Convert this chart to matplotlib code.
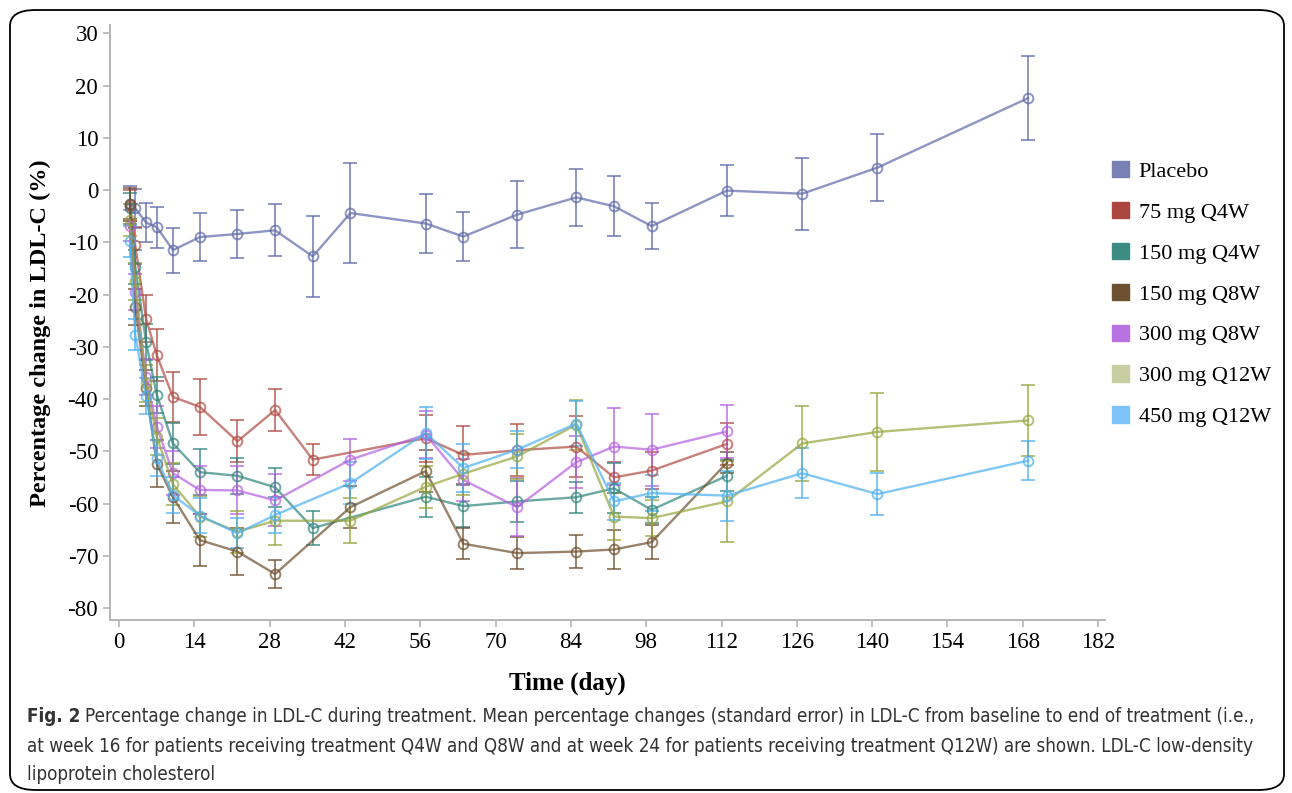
import matplotlib
matplotlib.use("Agg")
import matplotlib.pyplot as plt
from matplotlib.patches import Patch, FancyBboxPatch

plt.rcParams["axes.unicode_minus"] = False

# ---- data ----
placebo_days = [2, 3, 5, 7, 10, 15, 22, 29, 36, 43, 57, 64, 74, 85, 92, 99, 113, 127, 141, 169]
placebo_mean = [-2.6, -3.5, -6.2, -7.1, -11.5, -9.0, -8.4, -7.7, -12.7, -4.4, -6.4, -8.9, -4.7, -1.4, -3.1, -6.9, -0.1, -0.7, 4.3, 17.6]
placebo_se = [3.3, 3.8, 3.7, 3.9, 4.3, 4.6, 4.6, 5.0, 7.8, 9.5, 5.6, 4.7, 6.4, 5.4, 5.7, 4.4, 4.9, 6.9, 6.4, 8.1]

q4w75_days = [2, 3, 5, 7, 10, 15, 22, 29, 36, 57, 64, 74, 85, 92, 99, 113]
q4w75_mean = [-3.0, -10.6, -24.6, -31.6, -39.6, -41.5, -48.1, -42.1, -51.6, -47.5, -50.7, -49.8, -49.1, -55.0, -53.7, -48.6]
q4w75_se = [3.0, 3.5, 4.5, 5.0, 4.8, 5.3, 4.0, 4.0, 2.9, 4.5, 5.6, 5.0, 5.8, 3.0, 3.5, 4.0]

q4w150_days = [2, 3, 5, 7, 10, 15, 22, 29, 36, 57, 64, 74, 85, 92, 99, 113]
q4w150_mean = [-3.5, -14.7, -29.1, -39.2, -48.5, -54.0, -54.7, -56.9, -64.7, -58.7, -60.5, -59.6, -58.8, -57.1, -61.2, -54.7]
q4w150_se = [3.0, 3.2, 3.5, 3.5, 4.0, 4.4, 3.5, 3.7, 3.3, 3.8, 4.0, 4.0, 3.0, 4.8, 2.5, 3.0]

q8w150_days = [2, 3, 5, 7, 10, 15, 22, 29, 43, 57, 64, 74, 85, 92, 99, 113]
q8w150_mean = [-2.6, -22.4, -37.9, -52.4, -58.8, -67.0, -69.2, -73.5, -60.7, -53.8, -67.7, -69.5, -69.2, -68.8, -67.4, -52.2]
q8w150_se = [3.0, 3.5, 3.5, 4.5, 5.0, 4.9, 4.5, 2.6, 4.0, 4.0, 3.0, 3.0, 3.2, 3.8, 3.2, 2.0]

q8w300_days = [2, 3, 5, 7, 10, 15, 22, 29, 43, 57, 64, 74, 85, 92, 99, 113]
q8w300_mean = [-6.8, -19.5, -35.8, -45.3, -54.2, -57.4, -57.5, -59.4, -51.6, -46.8, -55.5, -60.7, -52.1, -49.1, -49.7, -46.2]
q8w300_se = [3.0, 3.5, 3.5, 4.0, 4.2, 4.6, 4.6, 5.0, 4.0, 4.5, 4.0, 5.6, 5.0, 7.4, 6.9, 5.0]

q12w300_days = [2, 3, 5, 7, 10, 15, 22, 29, 43, 57, 64, 74, 85, 92, 99, 113, 127, 141, 169]
q12w300_mean = [-5.7, -17.5, -37.0, -47.2, -56.3, -62.5, -65.4, -63.3, -63.3, -56.8, -54.3, -51.0, -44.9, -62.5, -62.8, -59.6, -48.5, -46.3, -44.1]
q12w300_se = [3.0, 3.5, 3.5, 3.5, 4.0, 4.0, 4.0, 4.6, 4.3, 4.0, 4.0, 4.3, 4.8, 4.5, 3.5, 7.8, 7.2, 7.4, 6.8]

q12w450_days = [2, 3, 5, 7, 10, 15, 22, 29, 43, 57, 64, 74, 85, 92, 99, 113, 127, 141, 169]
q12w450_mean = [-9.8, -27.7, -39.4, -51.3, -58.4, -62.3, -65.7, -62.2, -56.1, -46.5, -53.2, -49.7, -44.7, -59.6, -58.0, -58.5, -54.2, -58.2, -51.8]
q12w450_se = [3.0, 3.0, 3.5, 3.5, 3.5, 3.4, 2.9, 3.5, 4.0, 5.0, 4.6, 3.5, 4.3, 3.5, 3.5, 4.8, 4.75, 4.0, 3.7]

labels = ["Placebo", "75 mg Q4W", "150 mg Q4W", "150 mg Q8W", "300 mg Q8W", "300 mg Q12W", "450 mg Q12W"]
line_colors = ["#5e69a8", "#b04a42", "#2f857c", "#6e4e2c", "#b260e0", "#96a43c", "#4cb0f2"]
legend_colors = ["#7880b5", "#ab463f", "#3d8c84", "#6e5130", "#b872e2", "#c9cea2", "#7dc3f8"]

series = [
    (placebo_days, placebo_mean, placebo_se),
    (q4w75_days, q4w75_mean, q4w75_se),
    (q4w150_days, q4w150_mean, q4w150_se),
    (q8w150_days, q8w150_mean, q8w150_se),
    (q8w300_days, q8w300_mean, q8w300_se),
    (q12w300_days, q12w300_mean, q12w300_se),
    (q12w450_days, q12w450_mean, q12w450_se),
]

serif = "Liberation Serif"
cap_font = "DejaVu Sans"

W, H = 1292, 793
fig = plt.figure(figsize=(W / 100, H / 100), dpi=100)
ax = fig.add_axes([110 / W, 1 - 620 / H, (1105 - 110) / W, (620 - 25) / H])

for (d, m, s), c in zip(series, line_colors):
    ax.errorbar(d, m, yerr=s, color=c, alpha=0.7, linewidth=1.7, elinewidth=1.4,
                capsize=5, capthick=1.4, marker="o", markersize=7,
                markerfacecolor="none", markeredgewidth=1.4)

ax.set_xlim(-1.7, 183.3)
ax.set_ylim(-82.3, 31.6)
ax.set_xticks(range(0, 183, 14))
ax.set_yticks(range(-80, 31, 10))
for sp in ["top", "right"]:
    ax.spines[sp].set_visible(False)
for sp in ["left", "bottom"]:
    ax.spines[sp].set_color("#b5b5b5")
    ax.spines[sp].set_linewidth(1.4)
ax.tick_params(colors="#b5b5b5", length=5, width=1.2, labelcolor="black", labelsize=16.5)
for t in ax.get_xticklabels() + ax.get_yticklabels():
    t.set_fontfamily(serif)

fig.text(40 / W, 1 - 333 / H, "Percentage change in LDL-C (%)", rotation=90,
         ha="center", va="center", fontsize=17.5, fontweight="bold", family=serif)
fig.text(567 / W, 1 - 683 / H, "Time (day)", ha="center", va="center",
         fontsize=18, fontweight="bold", family=serif)

handles = [Patch(facecolor=c, edgecolor=c) for c in legend_colors]
fig.legend(handles, labels, loc="upper left", bbox_to_anchor=(1092 / W, 1 - 141 / H),
           frameon=False, prop={"family": serif, "size": 16}, handlelength=0.75,
           handleheight=0.75, handletextpad=0.45, labelspacing=0.9)

# caption, sized so the first line spans the same width as the original
cap_lines = [
    "Percentage change in LDL-C during treatment. Mean percentage changes (standard error) in LDL-C from baseline to end of treatment (i.e.,",
    "at week 16 for patients receiving treatment Q4W and Q8W and at week 24 for patients receiving treatment Q12W) are shown. LDL-C low-density",
    "lipoprotein cholesterol",
]
cap_y = [716, 747, 775]
cap_kw = dict(family=cap_font, stretch="condensed", color="#333333", va="center", ha="left")
fig.canvas.draw()
r = fig.canvas.get_renderer()
probe_b = fig.text(0, 0, "Fig. 2", fontsize=13, fontweight="bold", **cap_kw)
probe_t = fig.text(0, 0, cap_lines[0], fontsize=13, **cap_kw)
wb = probe_b.get_window_extent(renderer=r).width
wt = probe_t.get_window_extent(renderer=r).width
probe_b.remove()
probe_t.remove()
fs = min(13.5, 13 * (1273 - 27 - 5) / (wb + wt))
bold = fig.text(27 / W, 1 - cap_y[0] / H, "Fig. 2", fontsize=fs, fontweight="bold", **cap_kw)
bb = bold.get_window_extent(renderer=r)
fig.text((bb.x1 + 5) / W, 1 - cap_y[0] / H, cap_lines[0], fontsize=fs, **cap_kw)
for line, y in zip(cap_lines[1:], cap_y[1:]):
    fig.text(27 / W, 1 - y / H, line, fontsize=fs, **cap_kw)

frame = FancyBboxPatch((10 / W, 1 - 790 / H), (1284 - 10) / W, (790 - 10) / H,
                       boxstyle="round,pad=0,rounding_size=0.02", transform=fig.transFigure,
                       facecolor="none", edgecolor="black", linewidth=1.3)
fig.patches.append(frame)

fig.savefig("out.png", dpi=100)
